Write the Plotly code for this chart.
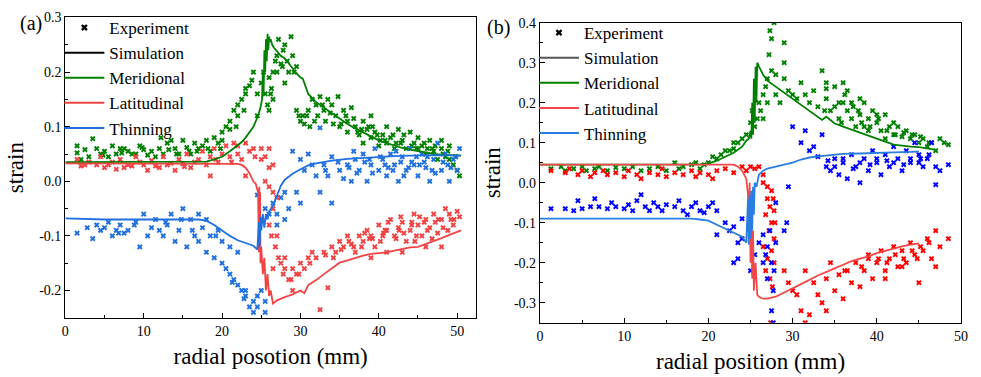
import plotly.graph_objects as go

# ---------------- Panel (a) data ----------------
a_mer_sim_x = [0, 5, 10, 15, 18, 19, 20, 21, 22, 22.5, 23, 23.5, 24, 24.3, 24.6, 24.9, 25.1, 25.2, 25.3, 25.4, 25.5, 25.6, 25.7, 25.8, 25.9, 26.0, 26.1, 26.2, 26.4, 26.6, 27, 27.5, 28, 28.5, 29, 29.5, 30, 30.3, 30.7, 31, 32, 33, 34, 35, 36, 37, 38, 39, 40, 41, 42, 43, 44, 45, 46, 47, 48, 49, 50, 50.5]
a_mer_sim_y = [0.035, 0.035, 0.035, 0.035, 0.036, 0.04, 0.045, 0.055, 0.066, 0.072, 0.08, 0.09, 0.1, 0.11, 0.12, 0.135, 0.15, 0.2, 0.16, 0.24, 0.2, 0.26, 0.22, 0.27, 0.24, 0.265, 0.255, 0.26, 0.25, 0.245, 0.238, 0.23, 0.225, 0.215, 0.207, 0.198, 0.19, 0.188, 0.17, 0.16, 0.145, 0.135, 0.125, 0.115, 0.105, 0.097, 0.09, 0.082, 0.075, 0.07, 0.065, 0.061, 0.058, 0.055, 0.052, 0.05, 0.049, 0.048, 0.047, 0.047]

a_lat_sim_x = [0, 5, 10, 15, 20, 21.5, 22, 22.5, 23, 23.5, 24, 24.3, 24.6, 24.7, 24.75, 24.8, 24.85, 24.9, 25.0, 25.2, 25.4, 25.6, 25.8, 26.0, 26.2, 26.5, 27, 28, 29, 30, 30.5, 31, 32, 33, 34, 35, 36, 37, 38, 39, 40, 41, 42, 43, 44, 45, 46, 47, 48, 49, 50, 50.5]
a_lat_sim_y = [0.033, 0.033, 0.033, 0.033, 0.033, 0.033, 0.032, 0.03, 0.025, 0.015, 0.0, -0.005, -0.02, -0.13, -0.01, -0.13, -0.02, -0.15, -0.12, -0.17, -0.14, -0.2, -0.17, -0.21, -0.2, -0.224, -0.218, -0.212, -0.207, -0.2, -0.205, -0.19, -0.181, -0.17, -0.16, -0.149, -0.145, -0.14, -0.136, -0.133, -0.132, -0.13, -0.127, -0.124, -0.121, -0.12, -0.115, -0.11, -0.104, -0.098, -0.092, -0.09]

a_thi_sim_x = [0, 5, 10, 15, 17, 18, 19, 20, 21, 22, 23, 24, 24.5, 24.7, 24.8, 24.9, 25.0, 25.2, 25.4, 25.6, 25.8, 26.0, 26.5, 27, 27.5, 28, 29, 30, 31, 32, 34, 36, 38, 40, 42, 44, 46, 48, 50, 50.5]
a_thi_sim_y = [-0.068, -0.07, -0.07, -0.07, -0.07, -0.072, -0.08, -0.09, -0.1, -0.108, -0.113, -0.118, -0.125, -0.075, -0.12, -0.065, -0.09, -0.06, -0.085, -0.06, -0.07, -0.055, -0.045, -0.025, -0.008, 0.003, 0.014, 0.022, 0.029, 0.033, 0.038, 0.041, 0.043, 0.044, 0.046, 0.047, 0.048, 0.048, 0.047, 0.047]

a_mer_exp_x = [1.5, 1.5, 2, 3.5, 4, 4.5, 5, 6, 6.5, 7, 7.5, 8, 9, 9.5, 10, 10.5, 11, 12, 12.2, 12.5, 13, 13.5, 14, 14.5, 15, 15.5, 16, 16.5, 17, 17.5, 18, 18.5, 19, 19.5, 20, 20,
               20.5, 21, 21, 21.5, 22, 22, 22.5, 23, 23, 23.5, 23.8, 24, 24.5, 24.5, 25, 25.3,
               25.5, 25.8, 26, 26, 26.3, 26.5, 26.5, 26.8, 27, 27, 27.2, 27.5, 27.8, 28, 28, 28.3, 28.5, 28.8, 29, 29.2, 29.5,
               29.5, 29.8, 30, 30.3, 30.5, 31, 31.2, 31.5, 32, 32.2, 32.5, 33, 33.2, 33.5, 34, 34.5, 34.8, 35, 35.5, 36, 36, 36.5, 37, 37.5, 38, 38, 38.5, 39, 39, 39.5, 40, 40.5, 41, 41, 41.5, 42, 42.5, 43, 43.5, 44, 44.5, 45, 45, 45.5, 46, 46.5, 47, 47.5, 48, 48.5, 49, 49.5, 50, 50.3, 49, 48,
               33.8, 35.2, 36.8, 37.3, 38.7, 39.8, 40.2, 41.8, 42.2, 43.2, 44.2, 45.8, 46.2, 47.2, 48.2, 3, 5.5, 8.5, 11.5, 14.2, 16.8, 19.8,
               2.5, 4.8, 7.2, 9.8, 13.2, 15.8, 18.2, 21.8, 22.8, 26.2, 27.7, 30.8, 31.8, 32.8, 34.2, 35.8, 37.8, 39.2, 40.8, 42.8, 44.8, 46.8, 48.8, 49.8]
a_mer_exp_y = [0.065, 0.052, 0.04, 0.078, 0.06, 0.05, 0.055, 0.065, 0.05, 0.06, 0.06, 0.055, 0.05, 0.065, 0.058, 0.048, 0.055, 0.06, 0.08, 0.05, 0.07, 0.075, 0.06, 0.05, 0.075, 0.062, 0.05, 0.07, 0.06, 0.065, 0.075, 0.055, 0.08, 0.07, 0.09, 0.075,
               0.1, 0.095, 0.11, 0.13, 0.14, 0.12, 0.15, 0.17, 0.16, 0.175, 0.185, 0.2, 0.16, 0.12, 0.18, 0.2,
               0.16, 0.14, 0.13, 0.19, 0.17, 0.2, 0.15, 0.22, 0.23, 0.2, 0.26, 0.215, 0.24, 0.25, 0.18, 0.22, 0.2, 0.265, 0.23, 0.2, 0.21,
               0.13, 0.12, 0.11, 0.12, 0.105, 0.13, 0.1, 0.15, 0.14, 0.12, 0.155, 0.13, 0.11, 0.15, 0.14, 0.12, 0.155, 0.1, 0.13, 0.11, 0.09, 0.135, 0.1, 0.085, 0.11, 0.07, 0.095, 0.12, 0.08, 0.09, 0.065, 0.085, 0.1, 0.07, 0.08, 0.06, 0.095, 0.075, 0.06, 0.09, 0.07, 0.06, 0.08, 0.065, 0.05, 0.075, 0.055, 0.04, 0.06, 0.045, 0.065, 0.03, 0.02, 0.01, 0.04, 0.075,
               0.125, 0.105, 0.115, 0.09, 0.1, 0.085, 0.075, 0.085, 0.07, 0.085, 0.065, 0.07, 0.06, 0.065, 0.05, 0.045, 0.045, 0.05, 0.045, 0.05, 0.055, 0.06,
               0.058, 0.048, 0.052, 0.062, 0.058, 0.055, 0.06, 0.1, 0.13, 0.16, 0.21, 0.12, 0.11, 0.14, 0.105, 0.12, 0.095, 0.1, 0.075, 0.07, 0.06, 0.06, 0.055, 0.045]

a_lat_exp_x = [1.5, 2, 3, 4, 4.5, 5, 6, 6.5, 7, 8, 8.5, 9, 10, 10.5, 11, 12, 12.5, 13, 14, 14.5, 15, 15.5, 16, 17, 17.5, 18, 18.5, 19, 19.5, 20, 20.5, 21, 21.5, 22, 22, 22.5, 23, 23.5, 24, 24.2, 25, 25.5, 26, 26.5, 26, 25, 18.5, 23,
               25.5, 26, 26.5, 26.5, 27, 26, 26.3, 26.8, 27, 27.2, 26.5, 27.5, 28, 28, 28.5, 29, 29, 29.5, 30, 30.5, 31, 31.5, 32, 32.5, 33, 33.5, 34, 34.5, 35, 35.5, 36, 36.5, 37, 37.5, 38, 38.5, 39, 39.5, 40, 40.5, 41, 41.5, 42, 42.5, 43, 43.5, 44, 44.5, 45, 45.5, 46, 46.5, 47, 47.5, 48, 48.5, 49, 49.5, 50, 50.3, 46, 48, 43, 41, 39,
               36.2, 37.8, 38.2, 39.2, 40.2, 40.8, 41.2, 42.2, 43.2, 44.2, 44.8, 45.2, 46.2, 47.2, 48.2, 49.2, 42.8, 44.6, 46.8, 48.8,
               2.5, 5.5, 7.5, 9.5, 11.5, 13.5, 15.2, 16.5, 19.2, 21.2, 27.8, 28.8, 29.8, 31.2, 33.2, 34.2, 35.2, 36.8, 38.8, 40.6, 42.6, 44.2, 45.8, 47.6, 49.6]
a_lat_exp_y = [0.04, 0.028, 0.035, 0.03, 0.045, 0.025, 0.035, 0.022, 0.04, 0.03, 0.028, 0.045, 0.03, 0.02, 0.038, 0.025, 0.045, 0.03, 0.02, 0.04, 0.032, 0.05, 0.025, 0.04, 0.055, 0.03, 0.045, 0.06, 0.035, 0.05, 0.065, 0.045, 0.07, 0.05, 0.065, 0.04, 0.07, 0.055, 0.06, 0.045, 0.06, 0.045, 0.06, 0.03, 0.025, 0.04, 0.01, 0.01,
               0.0, -0.01, -0.05, -0.02, -0.03, -0.08, -0.1, -0.12, -0.1, -0.14, -0.16, -0.15, -0.16, -0.14, -0.18, -0.16, -0.2, -0.17, -0.15, -0.16, -0.14, -0.13, -0.14, -0.235, -0.13, -0.195, -0.12, -0.13, -0.11, -0.12, -0.1, -0.115, -0.13, -0.1, -0.11, -0.09, -0.1, -0.12, -0.08, -0.1, -0.09, -0.07, -0.1, -0.085, -0.075, -0.11, -0.09, -0.06, -0.08, -0.1, -0.07, -0.085, -0.06, -0.095, -0.07, -0.05, -0.06, -0.08, -0.055, -0.065, -0.12, -0.12, -0.13, -0.13, -0.14,
               -0.11, -0.12, -0.095, -0.105, -0.11, -0.09, -0.075, -0.105, -0.095, -0.075, -0.1, -0.065, -0.09, -0.075, -0.085, -0.07, -0.065, -0.11, -0.105, -0.09,
               0.03, 0.03, 0.025, 0.035, 0.028, 0.033, 0.027, 0.035, 0.04, 0.035, -0.17, -0.18, -0.17, -0.15, -0.135, -0.14, -0.125, -0.12, -0.105, -0.095, -0.09, -0.08, -0.075, -0.07, -0.07]

a_thi_exp_x = [1.5, 3.5, 4, 4.5, 5, 5.5, 6, 6.5, 7, 7.5, 8, 9, 9.5, 10, 10.5, 11, 11.5, 12, 12.5, 13, 13.5, 14, 14.5, 15, 15.5, 16, 16.5, 17, 17, 17.5, 18, 18, 18.5, 19, 19.5, 20, 20, 20.5, 21, 21, 21.5, 22, 22, 22.5, 23, 23, 23.5, 24, 24, 24.5, 25, 25.5, 25.5, 24.5, 22.8, 21.3,
               24.5, 25, 25.5, 26, 26.5, 27, 27, 27.5, 28, 28.5, 28, 29, 29.5, 30, 30, 30.5, 31, 31.5, 32, 32.5, 33, 33.5, 34, 34, 35, 35.5, 36, 36.5, 37, 37.5, 38, 38.5, 39, 39.5, 40, 40.5, 41, 41.5, 42, 42.5, 43, 43.5, 44, 44.5, 45, 45.5, 46, 46.5, 47, 47.5, 48, 48.5, 49, 49.5, 50, 50.3, 32.5,
               38.2, 39.2, 40.2, 41.2, 42.2, 43.2, 44.2, 45.2, 46.2, 47.2, 48.2, 49.2, 36.8, 41.8, 44.8,
               2.8, 6.8, 8.8, 12.8, 14.8, 16.2, 19.2, 33.2, 34.8, 36.2, 37.2, 38.8, 40.8, 42.8, 43.8, 45.8, 46.8, 48.8, 49.8]
a_thi_exp_y = [-0.095, -0.105, -0.08, -0.09, -0.085, -0.075, -0.1, -0.09, -0.08, -0.095, -0.09, -0.075, -0.12, -0.06, -0.1, -0.085, -0.07, -0.09, -0.1, -0.08, -0.06, -0.11, -0.09, -0.05, -0.12, -0.07, -0.1, -0.06, -0.11, -0.085, -0.13, -0.07, -0.1, -0.14, -0.09, -0.15, -0.11, -0.16, -0.12, -0.17, -0.18, -0.13, -0.19, -0.2, -0.21, -0.2, -0.23, -0.22, -0.24, -0.21, -0.2, -0.22, -0.24, -0.23, -0.215, -0.185,
               -0.025, -0.07, -0.05, -0.06, -0.04, -0.06, -0.08, -0.03, -0.07, -0.05, -0.02, 0.055, -0.02, -0.04, 0.04, 0.02, 0.05, 0.03, 0.01, -0.02, 0.03, 0.01, -0.04, 0.045, 0.02, 0.005, 0.03, 0.0, 0.04, 0.02, 0.05, 0.0, 0.03, 0.06, 0.02, 0.04, 0.01, 0.05, 0.03, 0.0, 0.045, 0.02, 0.06, 0.03, 0.01, 0.05, 0.025, 0.0, 0.04, 0.07, 0.02, 0.05, 0.0, 0.04, 0.02, 0.06, 0.098,
               0.035, 0.015, 0.045, 0.025, 0.055, 0.01, 0.035, 0.03, 0.045, 0.015, 0.035, 0.025, 0.055, 0.02, 0.045,
               -0.085, -0.095, -0.08, -0.075, -0.07, -0.09, -0.1, 0.02, 0.035, 0.025, 0.015, 0.04, 0.03, 0.035, 0.025, 0.035, 0.02, 0.03, 0.045]

a_ytick_vals = [-0.2, -0.1, 0.0, 0.1, 0.2, 0.3]
a_ytick_text = ["-0.2", "-0.1", "0.0", "0.1", "0.2", "0.3"]

# ---------------- Panel (b) data ----------------
b_mer_sim_x = [0, 5, 10, 15, 19, 20, 21, 22, 23, 24, 24.5, 24.8, 25.0, 25.1, 25.2, 25.3, 25.4, 25.5, 25.6, 25.7, 25.8, 26.0, 26.5, 27, 28, 29, 30, 31, 32, 33, 33.5, 34, 35, 36, 38, 40, 42, 44, 45, 46, 47]
b_mer_sim_y = [0.045, 0.045, 0.045, 0.045, 0.046, 0.048, 0.055, 0.065, 0.075, 0.09, 0.105, 0.11, 0.13, 0.11, 0.2, 0.12, 0.26, 0.15, 0.29, 0.2, 0.3, 0.29, 0.27, 0.255, 0.24, 0.225, 0.21, 0.195, 0.18, 0.165, 0.157, 0.165, 0.148, 0.14, 0.125, 0.11, 0.095, 0.09, 0.089, 0.086, 0.082]

b_lat_sim_x = [0, 5, 10, 15, 20, 23, 23.5, 24, 24.5, 24.7, 24.8, 24.9, 25.0, 25.1, 25.2, 25.3, 25.4, 25.6, 25.8, 26.0, 26.5, 27, 28, 29, 30, 31, 32, 33, 34, 35, 36, 37, 38, 39, 40, 41, 42, 43, 44, 45]
b_lat_sim_y = [0.045, 0.045, 0.045, 0.045, 0.045, 0.045, 0.04, 0.03, 0.01, -0.03, -0.1, 0.0, -0.2, -0.06, -0.24, -0.12, -0.27, -0.2, -0.28, -0.285, -0.29, -0.29, -0.285, -0.275, -0.265, -0.255, -0.243, -0.232, -0.222, -0.214, -0.205, -0.196, -0.19, -0.184, -0.176, -0.17, -0.164, -0.159, -0.155, -0.152]

b_thi_sim_x = [0, 5, 10, 15, 18, 19, 20, 21, 22, 23, 24, 24.5, 24.7, 24.8, 24.9, 25.0, 25.1, 25.2, 25.3, 25.4, 25.5, 25.7, 26, 26.5, 27, 28, 29, 30, 31, 32, 33, 34, 35, 36, 38, 40, 42, 44, 45]
b_thi_sim_y = [-0.09, -0.09, -0.09, -0.09, -0.09, -0.092, -0.095, -0.105, -0.115, -0.125, -0.135, -0.15, -0.04, -0.155, -0.03, -0.14, -0.02, -0.12, -0.01, -0.08, 0.0, -0.01, 0.02, 0.03, 0.035, 0.04, 0.045, 0.05, 0.058, 0.063, 0.066, 0.068, 0.07, 0.072, 0.073, 0.075, 0.076, 0.077, 0.078]

b_mer_exp_x = [1.3, 2.5, 3, 4, 5, 5.5, 6.5, 7, 8, 9, 10, 11, 12, 13, 14, 15, 16, 16.5, 17, 18, 18.5, 19, 19.5, 20, 20.5, 21, 21.5, 22, 22.5, 23, 23, 23.5, 24, 24.5, 25, 25.2, 25.5, 25.8, 26, 26.2, 26.5, 26.5, 26.8, 27, 27, 27.2, 27.3, 27.5, 27.8, 27.5, 28, 28, 28.5, 29, 29, 29, 29.5, 30, 30.5, 31, 31.5, 32, 32.5, 33, 33.5, 34, 34, 34.5, 35, 35.5, 35.5, 36, 36.5, 36.5, 37, 37, 37.5, 38, 38, 38.5, 39, 39.5, 40, 40.5, 41, 41, 41.5, 42, 42.5, 43, 43.5, 44, 44.5, 45, 45.5, 46, 46.5, 47, 47.5, 48, 48.5, 34, 35, 36, 38.5, 40, 42, 39,
               36.2, 37.2, 38.2, 39.2, 40.2, 41.2, 42.2, 43.2, 44.2, 45.2, 46.2, 33.8, 35.8, 37.8]
b_mer_exp_y = [0.035, 0.04, 0.03, 0.035, 0.04, 0.03, 0.035, 0.04, 0.03, 0.038, 0.035, 0.04, 0.03, 0.035, 0.04, 0.03, 0.05, 0.035, 0.04, 0.045, 0.05, 0.035, 0.045, 0.05, 0.065, 0.06, 0.07, 0.08, 0.08, 0.085, 0.1, 0.1, 0.11, 0.12, 0.15, 0.18, 0.14, 0.16, 0.2, 0.18, 0.22, 0.16, 0.24, 0.26, 0.2, 0.32, 0.38, 0.36, 0.4, 0.28, 0.27, 0.22, 0.2, 0.35, 0.3, 0.26, 0.23, 0.22, 0.21, 0.25, 0.22, 0.2, 0.23, 0.19, 0.28, 0.25, 0.21, 0.18, 0.24, 0.2, 0.16, 0.25, 0.23, 0.18, 0.2, 0.16, 0.14, 0.21, 0.17, 0.14, 0.16, 0.18, 0.15, 0.13, 0.17, 0.11, 0.14, 0.12, 0.14, 0.115, 0.13, 0.11, 0.12, 0.1, 0.11, 0.09, 0.1, 0.08, 0.11, 0.1, 0.095, 0.235, 0.19, 0.2, 0.2, 0.17, 0.15, 0.13,
               0.22, 0.19, 0.15, 0.14, 0.16, 0.13, 0.12, 0.125, 0.12, 0.115, 0.1, 0.18, 0.15, 0.18]

b_lat_exp_x = [1.3, 3, 3.5, 4.5, 5, 6, 6.5, 7.5, 8, 9, 10, 10.5, 11.5, 12, 13, 14, 14.5, 15, 16, 17, 18, 18.5, 19, 20, 20.5, 21, 22, 23, 24, 24.5, 25, 25.5, 26, 26.5,
               26.5, 27, 27.5, 27, 27.3, 27.8, 26.8, 27.5, 27.2, 27.8, 26.5, 27.5, 27, 27.8, 26.8, 27.3, 27.6, 27.4, 27.7, 27.9,
               29, 29.5, 30, 30.5, 31, 31.5, 31.5, 32, 32.5, 33, 33.5, 34, 34, 34.5, 35, 35.5, 36, 36.5, 37, 37.5, 38, 38.5, 39, 39.5, 40, 40.5, 41, 41.5, 42, 42.5, 43, 43.5, 44, 44.5, 45, 45.5, 46, 46.5, 47, 47, 47.5, 48.5, 39, 41, 43,
               40.2, 41.2, 42.2, 43.2, 44.2, 45.2, 46.2, 38.2, 36.2, 44.8]
b_lat_exp_y = [0.03, 0.025, 0.035, 0.02, 0.03, 0.015, 0.025, 0.03, 0.02, 0.025, 0.015, 0.03, 0.02, 0.01, 0.025, 0.02, 0.035, 0.015, 0.025, 0.02, 0.03, 0.015, 0.025, 0.02, 0.01, 0.03, 0.035, 0.025, 0.04, 0.03, 0.04, 0.035, 0.04, 0.02,
               0.0, -0.01, -0.02, -0.04, -0.06, -0.07, -0.08, -0.1, -0.12, -0.14, -0.16, -0.17, -0.19, -0.2, -0.22, -0.24, -0.26, -0.35, -0.04, -0.1,
               -0.22, -0.25, -0.27, -0.28, -0.32, -0.35, -0.22, -0.33, -0.25, -0.28, -0.3, -0.32, -0.24, -0.2, -0.27, -0.23, -0.29, -0.22, -0.25, -0.2, -0.26, -0.22, -0.19, -0.24, -0.2, -0.17, -0.22, -0.19, -0.16, -0.21, -0.17, -0.2, -0.15, -0.18, -0.25, -0.17, -0.14, -0.19, -0.21, -0.12, -0.16, -0.14, -0.18, -0.24, -0.21,
               -0.19, -0.2, -0.18, -0.19, -0.17, -0.16, -0.15, -0.21, -0.22, -0.19]

b_thi_exp_x = [1.3, 3, 4, 4.5, 5, 6, 6.5, 7, 8, 8.5, 9, 10, 10.5, 11, 11.5, 12, 12.5, 13, 13.5, 14, 14.5, 15, 16, 16.5, 17, 17.5, 18, 18.5, 19, 19.5, 20, 20.5, 21,
               21, 22, 22.5, 23, 23.5, 24, 24, 23, 23.5, 25, 25.5, 26, 26.5, 26.5, 27, 27, 27.3, 27.5, 27.7, 27.5, 27.7, 28, 27.8, 26.8, 28, 29, 29.5, 29.3,
               30, 31, 31.5, 32, 32.5, 33, 33.5, 34, 34.5, 35, 35.5, 36, 36.5, 37, 37.5, 38, 38.5, 39, 39.5, 40, 40.5, 41, 41.5, 42, 42.5, 43, 43.5, 44, 44.5, 45, 45.5, 46, 46.5, 47, 47, 47.5, 48.5, 35, 36, 38, 40, 42, 44, 45,
               34.2, 37.2, 39.2, 41.2, 43.2, 45.2, 46.2]
b_thi_exp_y = [-0.065, -0.065, -0.07, -0.045, -0.065, -0.06, -0.04, -0.06, -0.065, -0.05, -0.06, -0.065, -0.055, -0.07, -0.045, -0.03, -0.06, -0.07, -0.05, -0.06, -0.07, -0.055, -0.06, -0.045, -0.07, -0.08, -0.06, -0.05, -0.07, -0.075, -0.06, -0.05, -0.07,
               -0.13, -0.1, -0.12, -0.11, -0.15, -0.09, -0.14, -0.2, -0.19, -0.22, -0.18, -0.15, -0.13, -0.2, -0.16, -0.24, -0.12, -0.2, -0.27, -0.32, -0.35, -0.15, -0.22, -0.18, -0.05, -0.12, -0.01, -0.1,
               0.14, 0.1, 0.13, 0.08, 0.09, 0.065, 0.12, 0.04, 0.03, 0.06, 0.02, 0.05, 0.01, 0.07, 0.04, 0.0, 0.06, 0.03, 0.08, 0.05, 0.02, 0.07, 0.04, 0.09, 0.06, 0.03, 0.08, 0.05, 0.1, 0.07, 0.04, 0.06, 0.1, 0.04, -0.005, 0.03, 0.045, 0.04, 0.06, 0.05, 0.06, 0.05, 0.06, 0.05,
               0.055, 0.035, 0.045, 0.055, 0.045, 0.06, 0.07]

b_ytick_vals = [-0.3, -0.2, -0.1, 0.0, 0.1, 0.2, 0.3, 0.4]
b_ytick_text = ["-0.3", "-0.2", "-0.1", "0.0", "0.1", "0.2", "0.3", "0.4"]

legend_labels = ["Experiment", "Simulation", "Meridional", "Latitudinal", "Thinning"]

FONT = "Liberation Serif, Times New Roman, serif"
GREEN = "#008000"
RED_A = "#f04444"
BLUE_A = "#2070e0"
RED_B = "#ff0000"
BLUE_B = "#0000ff"
RED_LINE_B = "#f04848"
BLUE_LINE_B = "#2a7de1"

fig = go.Figure()

def exp(x, y, color, xa, ya):
    fig.add_trace(go.Scatter(x=x, y=y, mode="markers", xaxis=xa, yaxis=ya, showlegend=False,
                             marker=dict(symbol="x", size=5, color=color, line=dict(width=0))))

def sim(x, y, color, xa, ya):
    fig.add_trace(go.Scatter(x=x, y=y, mode="lines", xaxis=xa, yaxis=ya, showlegend=False,
                             line=dict(color=color, width=1.8)))

# panel (a)
exp(a_mer_exp_x, a_mer_exp_y, GREEN, "x", "y")
exp(a_thi_exp_x, a_thi_exp_y, BLUE_A, "x", "y")
exp(a_lat_exp_x, a_lat_exp_y, RED_A, "x", "y")
sim(a_mer_sim_x, a_mer_sim_y, GREEN, "x", "y")
sim(a_lat_sim_x, a_lat_sim_y, RED_A, "x", "y")
sim(a_thi_sim_x, a_thi_sim_y, BLUE_A, "x", "y")

# panel (b)
exp(b_mer_exp_x, b_mer_exp_y, GREEN, "x2", "y2")
exp(b_lat_exp_x, b_lat_exp_y, RED_B, "x2", "y2")
exp(b_thi_exp_x, b_thi_exp_y, BLUE_B, "x2", "y2")
sim(b_mer_sim_x, b_mer_sim_y, GREEN, "x2", "y2")
sim(b_lat_sim_x, b_lat_sim_y, RED_LINE_B, "x2", "y2")
sim(b_thi_sim_x, b_thi_sim_y, BLUE_LINE_B, "x2", "y2")

# legend entries
def legend_entries(legend, sim_color, red, blue, xa, ya):
    fig.add_trace(go.Scatter(x=[None], y=[None], mode="markers", name=legend_labels[0], legend=legend,
                             xaxis=xa, yaxis=ya,
                             marker=dict(symbol="x", size=6, color="black", line=dict(width=0))))
    for name, col in zip(legend_labels[1:], [sim_color, GREEN, red, blue]):
        fig.add_trace(go.Scatter(x=[None], y=[None], mode="lines", name=name, legend=legend,
                                 xaxis=xa, yaxis=ya, line=dict(color=col, width=2)))

legend_entries("legend", "black", RED_A, BLUE_A, "x", "y")
legend_entries("legend2", "#555555", RED_LINE_B, BLUE_LINE_B, "x2", "y2")

axis_common = dict(showline=True, mirror=True, linecolor="black", linewidth=1.3,
                   ticks="inside", ticklen=5, tickwidth=1, tickcolor="black",
                   showgrid=False, zeroline=False, automargin=False,
                   tickfont=dict(family=FONT, size=14, color="black"))
title_font = dict(family=FONT, size=23, color="black")
minor_x = dict(ticks="inside", ticklen=3, dtick=5, tick0=0, tickmode="linear", tickcolor="black")
minor_y = dict(ticks="inside", ticklen=3, dtick=0.05, tick0=0, tickmode="linear", tickcolor="black")

fig.update_layout(
    width=981, height=377,
    margin=dict(l=0, r=0, t=0, b=0, autoexpand=False),
    paper_bgcolor="white", plot_bgcolor="white",
    xaxis=dict(domain=[0.0666, 0.4852], range=[0, 52.4], dtick=10, minor=minor_x,
               title=dict(text="radial posotion (mm)", font=title_font, standoff=10),
               anchor="y", **axis_common),
    yaxis=dict(domain=[0.157, 0.9536], range=[-0.25, 0.3], tickmode="array",
               tickvals=a_ytick_vals, ticktext=a_ytick_text, minor=minor_y,
               title=dict(text="strain", font=title_font, standoff=9),
               anchor="x", **axis_common),
    xaxis2=dict(domain=[0.5505, 0.9796], range=[0, 50], dtick=10, minor=minor_x,
                title=dict(text="radial position (mm)", font=title_font, standoff=10),
                anchor="y2", **axis_common),
    yaxis2=dict(domain=[0.144, 0.9398], range=[-0.35, 0.4], tickmode="array",
                tickvals=b_ytick_vals, ticktext=b_ytick_text, minor=minor_y,
                title=dict(text="strain", font=title_font, standoff=6),
                anchor="x2", **axis_common),
    legend=dict(x=0.0605, y=0.9735, xanchor="left", yanchor="top", bgcolor="rgba(0,0,0,0)",
                font=dict(family=FONT, size=17, color="black"), tracegroupgap=0, itemwidth=40,
                borderwidth=0),
    legend2=dict(x=0.5443, y=0.960, xanchor="left", yanchor="top", bgcolor="rgba(0,0,0,0)",
                 font=dict(family=FONT, size=17, color="black"), tracegroupgap=0, itemwidth=40,
                 borderwidth=0),
    annotations=[
        dict(text="(a)", x=0.018, y=0.974, xref="paper", yref="paper", xanchor="left", yanchor="top",
             showarrow=False, font=dict(family=FONT, size=20, color="black")),
        dict(text="(b)", x=0.494, y=0.962, xref="paper", yref="paper", xanchor="left", yanchor="top",
             showarrow=False, font=dict(family=FONT, size=20, color="black")),
    ],
)

fig.write_html("out.html", config={"displayModeBar": False},
               post_script="document.body.style.margin='0px';")
